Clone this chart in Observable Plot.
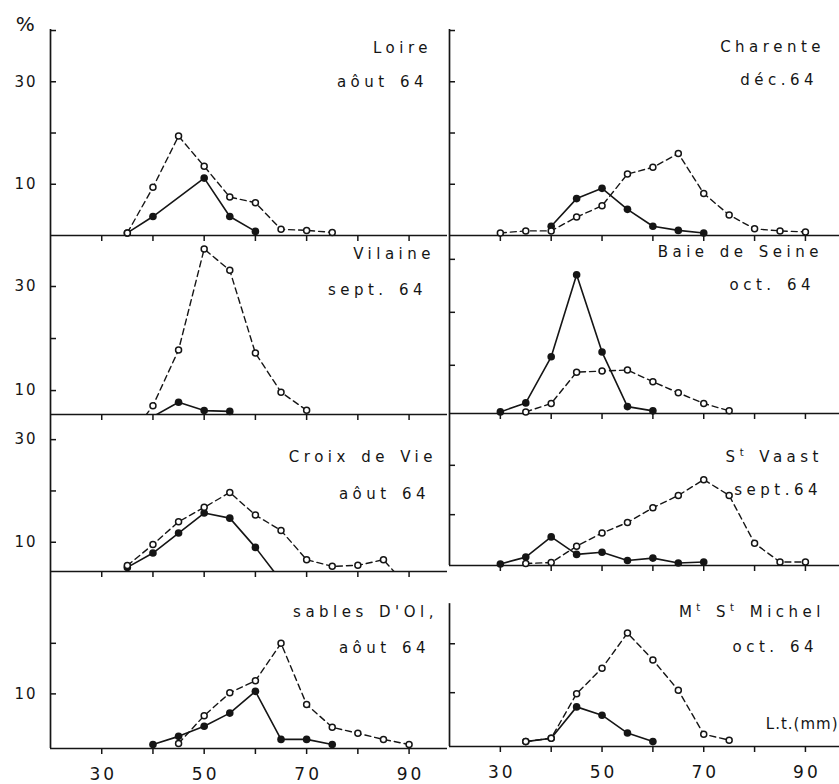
<!DOCTYPE html>
<html><head><meta charset="utf-8">
<script src="https://cdn.jsdelivr.net/npm/d3@7"></script>
<script src="https://cdn.jsdelivr.net/npm/@observablehq/plot@0.6"></script>
<style>
body{margin:0;background:#fff;}
#chart{position:relative;width:839px;height:784px;background:#fff;overflow:hidden;}
#chart svg{position:absolute;left:0;overflow:visible;background:transparent;font-family:"DejaVu Sans",sans-serif;}
#chart svg text{letter-spacing:4.5px;word-spacing:2px;}
#chart g[aria-label="y-axis tick label"] text{letter-spacing:2px;}
#chart g[aria-label="x-axis tick label"] text{letter-spacing:3px;}
</style></head><body><div id="chart"></div>
<script>
// ---- data: [length class (mm), percent] ----
const loireSolid   = [[35,0.5],[40,3.7],[50,11.2],[55,3.7],[60,0.8]];
const loireOpen    = [[35,0.5],[40,9.4],[45,19.4],[50,13.5],[55,7.5],[60,6.4],[65,1.2],[70,1.0],[75,0.6]];
const charenteSolid= [[40,1.8],[45,7.2],[50,9.2],[55,5.1],[60,1.8],[65,1.0],[70,0.5]];
const charenteOpen = [[30,0.5],[35,0.9],[40,0.9],[45,3.6],[50,5.8],[55,12.0],[60,13.3],[65,16.0],[70,8.2],[75,4.0],[80,1.3],[85,0.9],[90,0.7]];
const vilaineSolid = [[40,5.0],[45,7.75],[50,6.15],[55,6.0]];
const vilaineOpen  = [[35,0.5],[40,7.1],[45,17.8],[50,37.2],[55,33.1],[60,17.2],[65,9.7],[70,6.2]];
const seineSolid   = [[30,1.2],[35,2.9],[40,11.6],[45,27.1],[50,12.5],[55,2.2],[60,1.4]];
const seineOpen    = [[35,1.2],[40,2.8],[45,8.7],[50,8.9],[55,9.1],[60,6.9],[65,4.8],[70,2.8],[75,1.4]];
const croixSolid   = [[35,5.1],[40,7.9],[45,11.8],[50,15.7],[55,14.7],[60,9.0],[65,2.5]];
const croixOpen    = [[35,5.45],[40,9.55],[45,14.0],[50,16.8],[55,19.7],[60,15.3],[65,12.3],[70,6.6],[75,5.3],[80,5.5],[85,6.6],[90,1.0]];
const vaastSolid   = [[30,0],[35,1.4],[40,5.5],[45,1.95],[50,2.4],[55,0.7],[60,1.2],[65,0.2],[70,0.4]];
const vaastOpen    = [[35,0.1],[40,0.3],[45,3.6],[50,6.3],[55,8.4],[60,11.4],[65,13.9],[70,17.1],[75,13.9],[80,4.2],[85,0.4],[90,0.4]];
const sablesSolid  = [[40,0],[45,1.6],[50,3.6],[55,6.2],[60,10.5],[65,1.0],[70,1.0],[75,0]];
const sablesOpen   = [[45,0.2],[50,5.7],[55,10.2],[60,12.6],[65,20.0],[70,7.9],[75,3.4],[80,2.2],[85,1.0],[90,0]];
const michelSolid  = [[35,0],[40,0.7],[45,7.1],[50,5.4],[55,1.75],[60,0]];
const michelOpen   = [[35,0],[40,0.7],[45,9.8],[50,15.0],[55,22.2],[60,16.7],[65,10.5],[70,1.5],[75,0.3]];

const panelNames = ["Loire","Charente","Vilaine","Baie de Seine","Croix de Vie","S^t Vaast","sables D'Ol,","M^t S^t Michel"];
const panelDates = ["aôut 64","déc.64","sept. 64","oct. 64","aôut 64","sept.64","aôut 64","oct. 64"];
const xTickValues = [30,40,50,60,70,80,90];
const xTickLabels = [30,50,70,90];
const yUnit = "%";
const xUnit = "L.t.(mm)";

// ---- layout (pixel geometry of each panel, y-range read per panel) ----
const layout = [
  {col:0, top:29,  base:235, domain:[0,40.2],   axisTop:40.2, ticks:[10,20,30,40], labels:[10,30], nameAt:[-15.5,19], dateAt:[-19.5,53]},
  {col:1, top:29,  base:235, domain:[0,40.2],   axisTop:40.2, ticks:[10,20,30,40], labels:[],      nameAt:[-14.5,18], dateAt:[-21.5,51]},
  {col:0, top:235, base:414, domain:[5.4,39.8], axisTop:39.8, ticks:[10,20,30],    labels:[10,30], nameAt:[-12.5,19], dateAt:[-20.5,55]},
  {col:1, top:235, base:413, domain:[0.9,34.5], axisTop:34.5, ticks:[10,20,30],    labels:[],      nameAt:[-16.5,17], dateAt:[-24.5,50]},
  {col:0, top:414, base:571, domain:[4.3,34.9], axisTop:34.9, ticks:[10,20,30],    labels:[10,30], nameAt:[-10.5,43], dateAt:[-17.5,80]},
  {col:1, top:413, base:565, domain:[-0.3,30.5],axisTop:30.5, ticks:[10,20],       labels:[],      nameAt:[-16.5,44], dateAt:[-17.5,77]},
  {col:0, top:571, base:748, domain:[-0.8,34.2],axisTop:34.2, ticks:[10,20],       labels:[10],    nameAt:[-9.5,41],  dateAt:[-17.5,77]},
  {col:1, top:565, base:746, domain:[-1,36],    axisTop:28.2, ticks:[10,20],       labels:[],      nameAt:[-14.5,47], dateAt:[-21.5,82]}
];
const series = [
  [loireSolid, loireOpen],[charenteSolid, charenteOpen],[vilaineSolid, vilaineOpen],[seineSolid, seineOpen],
  [croixSolid, croixOpen],[vaastSolid, vaastOpen],[sablesSolid, sablesOpen],[michelSolid, michelOpen]
];

const W = 839, padT = 24, padB = 40, ink = "#151515";
const chart = document.getElementById("chart");

function toRows(arr){ return arr.map(([mm,v]) => ({mm, v})); }

layout.forEach((p, i) => {
  const left = p.col === 0;
  const bottomRow = i >= 6;
  const [vb] = p.domain;
  const solid = toRows(series[i][0]);
  const open = toRows(series[i][1]);
  const marks = [
    Plot.ruleY([vb], {stroke: ink, strokeWidth: 1.7}),
    Plot.ruleX([20], {y1: vb, y2: p.axisTop, stroke: ink, strokeWidth: 1.7}),
    Plot.axisX(xTickValues, {anchor: "bottom", tickSize: 6, fill: "none", stroke: ink, strokeWidth: 1.5, label: null}),
    Plot.axisY(p.ticks, {anchor: "left", tickSize: -6, fill: "none", stroke: ink, strokeWidth: 1.5, label: null}),
    Plot.line(open, {x: "mm", y: "v", stroke: ink, strokeWidth: 1.4, strokeDasharray: "6,4", clip: true}),
    Plot.line(solid, {x: "mm", y: "v", stroke: ink, strokeWidth: 1.6, clip: true}),
    Plot.dot(solid.filter(d => d.v >= vb), {x: "mm", y: "v", r: 3.8, fill: ink, stroke: "none"}),
    Plot.dot(open.filter(d => d.v >= vb), {x: "mm", y: "v", r: 3, fill: "white", stroke: ink, strokeWidth: 1.5}),
    Plot.text([panelNames[i]], {text: d => d, frameAnchor: "top-right", textAnchor: "end", lineAnchor: "middle", dx: p.nameAt[0], dy: p.nameAt[1], fontSize: 15, fill: ink}),
    Plot.text([panelDates[i]], {text: d => d, frameAnchor: "top-right", textAnchor: "end", lineAnchor: "middle", dx: p.dateAt[0], dy: p.dateAt[1], fontSize: 15, fill: ink})
  ];
  if (p.labels.length) marks.push(Plot.axisY(p.labels, {anchor: "left", tickSize: 0, tickPadding: 13, fontSize: 15, fill: ink, label: null}));
  if (bottomRow) marks.push(Plot.axisX(xTickLabels, {anchor: "bottom", tickSize: 0, tickPadding: 19, fontSize: 17, fill: ink, dx: 1.5, label: null}));
  if (i === 0) marks.push(Plot.text([yUnit], {text: d => d, frameAnchor: "top-left", textAnchor: "middle", lineAnchor: "middle", dx: -23, dy: -5, fontSize: 20, fill: ink}));
  if (i === 7) marks.push(Plot.text([xUnit], {text: d => d, frameAnchor: "top-right", textAnchor: "end", lineAnchor: "middle", dx: -1, dy: 159, fontSize: 15, fill: ink}));

  const svg = Plot.plot({
    width: W,
    height: (p.base - p.top) + padT + padB,
    marginTop: padT, marginBottom: padB,
    marginLeft: left ? 50 : 449, marginRight: left ? W - 447 : 0,
    x: {domain: left ? [20, 97.5] : [20, 96.7], label: null},
    y: {domain: p.domain, label: null},
    style: {background: "transparent", color: ink},
    marks
  });
  svg.style.top = (p.top - padT) + "px";
  // superscript abbreviations (S^t -> Sᵗ)
  svg.querySelectorAll("text").forEach(t => {
    const s = t.textContent;
    if (!s.includes("^")) return;
    t.textContent = "";
    s.split(/\^(\w)/).forEach((part, k) => {
      const ts = document.createElementNS("http://www.w3.org/2000/svg", "tspan");
      ts.textContent = part;
      if (k % 2 === 1) { ts.setAttribute("dy", "-6"); ts.setAttribute("font-size", "10"); }
      else if (k > 0) ts.setAttribute("dy", "6");
      t.appendChild(ts);
    });
  });
  if (i === 7) svg.querySelectorAll("text").forEach(t => { if (t.textContent === xUnit) t.style.letterSpacing = "1px"; });
  chart.appendChild(svg);
});
</script></body></html>
